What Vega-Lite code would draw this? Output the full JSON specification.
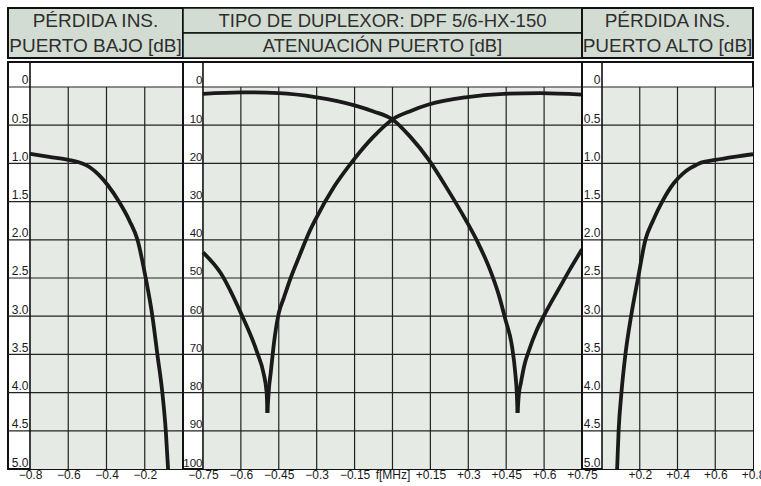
{
  "$schema": "https://vega.github.io/schema/vega-lite/v6.json",
  "padding": {"left": 6, "top": 6, "right": 2, "bottom": 2},
  "background": "white",
  "spacing": 0,
  "config": {
    "view": {"stroke": "#111", "strokeWidth": 2},
    "font": "Liberation Sans",
    "axis": {"labelFont": "Liberation Sans", "labelColor": "#1a1a1a", "labelOverlap": false, "labelSeparation": 0}
  },
  "vconcat": [
    {
      "spacing": 0,
      "bounds": "flush",
      "hconcat": [
        {
          "width": 175, "height": 50,
          "view": {"fill": "#d3dcd3", "stroke": "#111", "strokeWidth": 2},
          "data": {"values": [{"row": "a", "t": "PÉRDIDA INS."}, {"row": "b", "t": "PUERTO BAJO [dB]"}]},
          "mark": {"type": "text", "fontSize": 19, "color": "#2e2e2e", "align": "center", "baseline": "middle"},
          "encoding": {"y": {"field": "row", "type": "nominal", "axis": null, "scale": {"paddingInner": 0, "paddingOuter": 0}}, "text": {"field": "t", "type": "nominal"}}
        },
        {
          "width": 399, "height": 50,
          "view": {"stroke": "#111", "strokeWidth": 2},
          "data": {"values": [{"row": "a", "t": "TIPO DE DUPLEXOR: DPF 5/6-HX-150"}, {"row": "b", "t": "ATENUACIÓN PUERTO [dB]"}]},
          "encoding": {"y": {"field": "row", "type": "nominal", "axis": null, "scale": {"paddingInner": 0, "paddingOuter": 0}}},
          "layer": [
            {"mark": {"type": "rect", "fill": "#d3dcd3", "stroke": "#111", "strokeWidth": 1.5}},
            {"mark": {"type": "text", "fontSize": 18.5, "color": "#2e2e2e", "align": "center", "baseline": "middle"}, "encoding": {"text": {"field": "t", "type": "nominal"}}}
          ]
        },
        {
          "width": 171, "height": 50,
          "view": {"fill": "#d3dcd3", "stroke": "#111", "strokeWidth": 2},
          "data": {"values": [{"row": "a", "t": "PÉRDIDA INS."}, {"row": "b", "t": "PUERTO ALTO [dB]"}]},
          "mark": {"type": "text", "fontSize": 19, "color": "#2e2e2e", "align": "center", "baseline": "middle"},
          "encoding": {"y": {"field": "row", "type": "nominal", "axis": null, "scale": {"paddingInner": 0, "paddingOuter": 0}}, "text": {"field": "t", "type": "nominal"}}
        }
      ]
    },
    {
      "spacing": 0,
      "bounds": "flush",
      "hconcat": [
        {
          "width": 175, "height": 407,
          "layer": [
            {
              "data": {"values": [{"region": "grid"}]},
              "mark": {"type": "rect", "color": "#e5eae5"},
              "encoding": {
                "x": {"datum": -0.8, "type": "quantitative", "scale": {"domain": [-0.915, 0], "nice": false, "zero": false},
                  "axis": {"orient": "bottom", "values": [-0.8, -0.6, -0.4, -0.2], "tickCount": 20, "labelExpr": "format(datum.value,'~g')", "title": null, "grid": false, "domain": false, "ticks": false, "labelFlush": false, "labelOverlap": false, "labelBound": false, "labelPadding": 0, "labelFontSize": 12}},
                "x2": {"datum": 0},
                "y": {"datum": 0, "type": "quantitative", "scale": {"domain": [-0.327, 5], "reverse": true, "nice": false, "zero": false},
                  "axis": {"orient": "left", "offset": -22, "values": [0, 0.5, 1, 1.5, 2, 2.5, 3, 3.5, 4, 4.5, 5], "tickCount": 20, "labelExpr": "datum.value==0?'0':format(datum.value,'.1f')", "title": null, "grid": false, "domain": false, "ticks": false, "labelBaseline": "alphabetic", "labelOffset": -3, "labelPadding": 2, "labelFontSize": 12, "labelOverlap": false, "labelFlush": false, "labelBound": false}},
                "y2": {"datum": 5}
              }
            },
            {
              "data": {"values": [{"v": 0}, {"v": 0.5}, {"v": 1}, {"v": 1.5}, {"v": 2}, {"v": 2.5}, {"v": 3}, {"v": 3.5}, {"v": 4}, {"v": 4.5}]},
              "mark": {"type": "rule", "color": "#222", "strokeWidth": 1.2},
              "encoding": {"y": {"field": "v", "type": "quantitative", "title": null}}
            },
            {
              "data": {"values": [{"f": -0.6}, {"f": -0.4}, {"f": -0.2}]},
              "mark": {"type": "rule", "color": "#222", "strokeWidth": 1.2},
              "encoding": {"x": {"field": "f", "type": "quantitative", "title": null}, "y": {"datum": 0, "type": "quantitative", "title": null}, "y2": {"datum": 5}}
            },
            {
              "data": {"values": [{"f": -0.8}]},
              "mark": {"type": "rule", "color": "#111", "strokeWidth": 1.6},
              "encoding": {"x": {"field": "f", "type": "quantitative", "title": null}}
            },
            {
              "data": {"values": [
                {"f": -0.8, "v": 0.873}, {"f": -0.7, "v": 0.915}, {"f": -0.6, "v": 0.955}, {"f": -0.545, "v": 0.985}, {"f": -0.51, "v": 1.02}, {"f": -0.482, "v": 1.06}, {"f": -0.44, "v": 1.15}, {"f": -0.395, "v": 1.28}, {"f": -0.335, "v": 1.5}, {"f": -0.28, "v": 1.75}, {"f": -0.238, "v": 2.0}, {"f": -0.195, "v": 2.5}, {"f": -0.16, "v": 3.0}, {"f": -0.134, "v": 3.5}, {"f": -0.108, "v": 4.0}, {"f": -0.09, "v": 4.5}, {"f": -0.078, "v": 5.0}
              ]},
              "mark": {"type": "line", "color": "#1a1a1a", "strokeWidth": 3.8, "interpolate": "monotone", "clip": true},
              "encoding": {"x": {"field": "f", "type": "quantitative", "title": null}, "y": {"field": "v", "type": "quantitative", "title": null}}
            }
          ]
        },
        {
          "width": 399, "height": 407,
          "layer": [
            {
              "data": {"values": [{"region": "grid"}]},
              "mark": {"type": "rect", "color": "#e5eae5"},
              "encoding": {
                "x": {"datum": -0.75, "type": "quantitative", "scale": {"domain": [-0.829, 0.75], "nice": false, "zero": false},
                  "axis": {"orient": "bottom", "values": [-0.75, -0.6, -0.45, -0.3, -0.15, 0, 0.15, 0.3, 0.45, 0.6, 0.75], "tickCount": 20, "labelExpr": "datum.value==0?'f[MHz]':format(datum.value,'+~g')", "title": null, "grid": false, "domain": false, "ticks": false, "labelFlush": false, "labelOverlap": false, "labelSeparation": 0, "labelBound": false, "labelPadding": 0, "labelFontSize": 12}},
                "x2": {"datum": 0.75},
                "y": {"datum": 0, "type": "quantitative", "scale": {"domain": [-6.54, 100], "reverse": true, "nice": false, "zero": false},
                  "axis": {"orient": "left", "offset": -20, "values": [0, 10, 20, 30, 40, 50, 60, 70, 80, 90, 100], "tickCount": 20, "labelExpr": "format(datum.value,'~g')", "title": null, "grid": false, "domain": false, "ticks": false, "labelBaseline": "alphabetic", "labelOffset": -3, "labelPadding": 1, "labelFontSize": 11.5, "labelOverlap": false, "labelFlush": false, "labelBound": false}},
                "y2": {"datum": 100}
              }
            },
            {
              "data": {"values": [{"v": 0}, {"v": 10}, {"v": 20}, {"v": 30}, {"v": 40}, {"v": 50}, {"v": 60}, {"v": 70}, {"v": 80}, {"v": 90}]},
              "mark": {"type": "rule", "color": "#222", "strokeWidth": 1.2},
              "encoding": {"y": {"field": "v", "type": "quantitative", "title": null}}
            },
            {
              "data": {"values": [{"f": -0.6}, {"f": -0.45}, {"f": -0.3}, {"f": -0.15}, {"f": 0}, {"f": 0.15}, {"f": 0.3}, {"f": 0.45}, {"f": 0.6}]},
              "mark": {"type": "rule", "color": "#222", "strokeWidth": 1.2},
              "encoding": {"x": {"field": "f", "type": "quantitative", "title": null}, "y": {"datum": 0, "type": "quantitative", "title": null}, "y2": {"datum": 100}}
            },
            {
              "data": {"values": [{"f": -0.75}]},
              "mark": {"type": "rule", "color": "#111", "strokeWidth": 1.6},
              "encoding": {"x": {"field": "f", "type": "quantitative", "title": null}}
            },
            {
              "data": {"values": [
                {"s": "A1", "f": -0.75, "v": 1.8}, {"s": "A1", "f": -0.6, "v": 1.4}, {"s": "A1", "f": -0.45, "v": 1.6}, {"s": "A1", "f": -0.3, "v": 2.7}, {"s": "A1", "f": -0.15, "v": 4.8}, {"s": "A1", "f": -0.075, "v": 6.4}, {"s": "A1", "f": 0, "v": 8.5}, {"s": "A1", "f": 0.07, "v": 13}, {"s": "A1", "f": 0.143, "v": 19}, {"s": "A1", "f": 0.22, "v": 27}, {"s": "A1", "f": 0.289, "v": 34.7}, {"s": "A1", "f": 0.34, "v": 41}, {"s": "A1", "f": 0.387, "v": 48}, {"s": "A1", "f": 0.42, "v": 54.3}, {"s": "A1", "f": 0.447, "v": 60.9}, {"s": "A1", "f": 0.473, "v": 67.9}, {"s": "A1", "f": 0.486, "v": 74.9}, {"s": "A1", "f": 0.492, "v": 80.1}, {"s": "A1", "f": 0.495, "v": 85.3},
                {"s": "A2", "f": 0.495, "v": 85.3}, {"s": "A2", "f": 0.5, "v": 80.5}, {"s": "A2", "f": 0.508, "v": 77.5}, {"s": "A2", "f": 0.521, "v": 73.1}, {"s": "A2", "f": 0.541, "v": 68.8}, {"s": "A2", "f": 0.572, "v": 63.5}, {"s": "A2", "f": 0.612, "v": 58.3}, {"s": "A2", "f": 0.664, "v": 52.2}, {"s": "A2", "f": 0.7, "v": 48}, {"s": "A2", "f": 0.75, "v": 42.5},
                {"s": "B1", "f": -0.75, "v": 43.3}, {"s": "B1", "f": -0.68, "v": 48.7}, {"s": "B1", "f": -0.6, "v": 59.2}, {"s": "B1", "f": -0.535, "v": 69.6}, {"s": "B1", "f": -0.51, "v": 75}, {"s": "B1", "f": -0.498, "v": 80}, {"s": "B1", "f": -0.495, "v": 85.3},
                {"s": "B2", "f": -0.495, "v": 85.3}, {"s": "B2", "f": -0.489, "v": 79}, {"s": "B2", "f": -0.482, "v": 74.9}, {"s": "B2", "f": -0.469, "v": 67}, {"s": "B2", "f": -0.45, "v": 59.2}, {"s": "B2", "f": -0.43, "v": 55.2}, {"s": "B2", "f": -0.403, "v": 50}, {"s": "B2", "f": -0.37, "v": 44.5}, {"s": "B2", "f": -0.331, "v": 38.2}, {"s": "B2", "f": -0.305, "v": 34.7}, {"s": "B2", "f": -0.23, "v": 26}, {"s": "B2", "f": -0.153, "v": 19}, {"s": "B2", "f": -0.075, "v": 13}, {"s": "B2", "f": 0, "v": 8.5}, {"s": "B2", "f": 0.075, "v": 6.2}, {"s": "B2", "f": 0.143, "v": 4.6}, {"s": "B2", "f": 0.289, "v": 2.7}, {"s": "B2", "f": 0.44, "v": 1.8}, {"s": "B2", "f": 0.585, "v": 1.6}, {"s": "B2", "f": 0.75, "v": 2.0}
              ]},
              "mark": {"type": "line", "color": "#1a1a1a", "strokeWidth": 3.8, "interpolate": "monotone", "clip": true},
              "encoding": {"x": {"field": "f", "type": "quantitative", "title": null}, "y": {"field": "v", "type": "quantitative", "title": null}, "detail": {"field": "s", "type": "nominal"}}
            }
          ]
        },
        {
          "width": 171, "height": 407,
          "layer": [
            {
              "data": {"values": [{"region": "grid"}]},
              "mark": {"type": "rect", "color": "#e5eae5"},
              "encoding": {
                "x": {"datum": 0, "type": "quantitative", "scale": {"domain": [-0.106, 0.8], "nice": false, "zero": false},
                  "axis": {"orient": "bottom", "values": [0.2, 0.4, 0.6, 0.8], "tickCount": 20, "labelExpr": "format(datum.value,'+~g')", "title": null, "grid": false, "domain": false, "ticks": false, "labelFlush": false, "labelOverlap": false, "labelBound": false, "labelPadding": 0, "labelFontSize": 12}},
                "x2": {"datum": 0.8},
                "y": {"datum": 0, "type": "quantitative", "scale": {"domain": [-0.327, 5], "reverse": true, "nice": false, "zero": false},
                  "axis": {"orient": "left", "offset": -20, "values": [0, 0.5, 1, 1.5, 2, 2.5, 3, 3.5, 4, 4.5, 5], "tickCount": 20, "labelExpr": "datum.value==0?'0':format(datum.value,'.1f')", "title": null, "grid": false, "domain": false, "ticks": false, "labelBaseline": "alphabetic", "labelOffset": -3, "labelPadding": 2, "labelFontSize": 12, "labelOverlap": false, "labelFlush": false, "labelBound": false}},
                "y2": {"datum": 5}
              }
            },
            {
              "data": {"values": [{"v": 0}, {"v": 0.5}, {"v": 1}, {"v": 1.5}, {"v": 2}, {"v": 2.5}, {"v": 3}, {"v": 3.5}, {"v": 4}, {"v": 4.5}]},
              "mark": {"type": "rule", "color": "#222", "strokeWidth": 1.2},
              "encoding": {"y": {"field": "v", "type": "quantitative", "title": null}}
            },
            {
              "data": {"values": [{"f": 0.2}, {"f": 0.4}, {"f": 0.6}]},
              "mark": {"type": "rule", "color": "#222", "strokeWidth": 1.2},
              "encoding": {"x": {"field": "f", "type": "quantitative", "title": null}, "y": {"datum": 0, "type": "quantitative", "title": null}, "y2": {"datum": 5}}
            },
            {
              "data": {"values": [{"f": 0}]},
              "mark": {"type": "rule", "color": "#111", "strokeWidth": 1.6},
              "encoding": {"x": {"field": "f", "type": "quantitative", "title": null}}
            },
            {
              "data": {"values": [
                {"f": 0.08, "v": 5.0}, {"f": 0.088, "v": 4.5}, {"f": 0.103, "v": 4.0}, {"f": 0.124, "v": 3.5}, {"f": 0.154, "v": 3.0}, {"f": 0.191, "v": 2.5}, {"f": 0.23, "v": 2.0}, {"f": 0.27, "v": 1.75}, {"f": 0.319, "v": 1.5}, {"f": 0.38, "v": 1.26}, {"f": 0.43, "v": 1.13}, {"f": 0.47, "v": 1.06}, {"f": 0.5, "v": 1.02}, {"f": 0.525, "v": 0.99}, {"f": 0.6, "v": 0.955}, {"f": 0.7, "v": 0.915}, {"f": 0.8, "v": 0.88}
              ]},
              "mark": {"type": "line", "color": "#1a1a1a", "strokeWidth": 3.8, "interpolate": "monotone", "clip": true},
              "encoding": {"x": {"field": "f", "type": "quantitative", "title": null}, "y": {"field": "v", "type": "quantitative", "title": null}}
            }
          ]
        }
      ]
    }
  ]
}
